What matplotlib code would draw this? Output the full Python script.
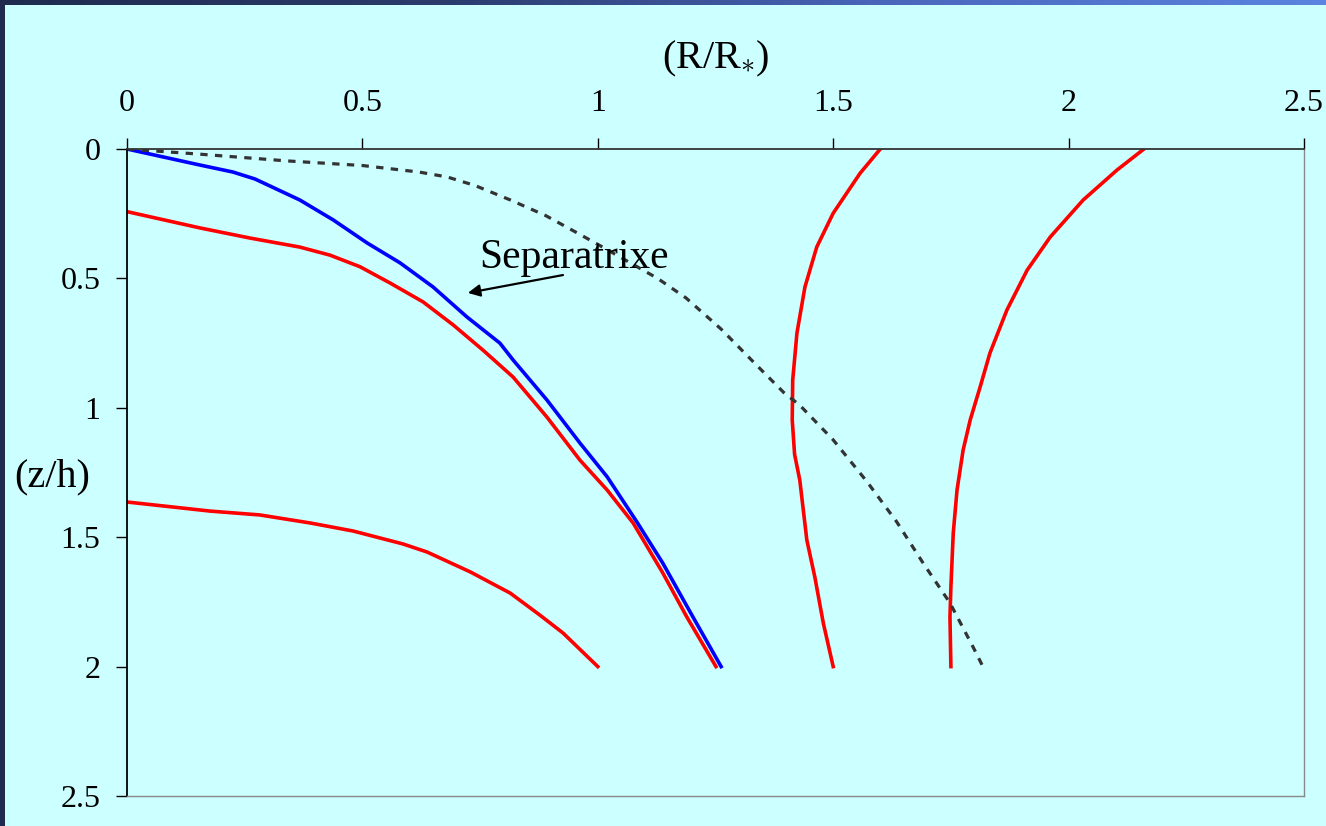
import numpy as np
import matplotlib
matplotlib.use("Agg")
import matplotlib.pyplot as plt
from matplotlib.colors import LinearSegmentedColormap

plt.rcParams["font.family"] = ["Liberation Serif", "DejaVu Serif"]
plt.rcParams["mathtext.fontset"] = "custom"
plt.rcParams["mathtext.rm"] = "Liberation Serif"
plt.rcParams["mathtext.it"] = "Liberation Serif:italic"

# Separatrix (blue)
sep_r = [0, 0.155, 0.225, 0.272, 0.367, 0.438, 0.510, 0.580, 0.650, 0.722,
         0.792, 0.820, 0.892, 0.962, 1.020, 1.083, 1.138, 1.202, 1.262]
sep_z = [0, 0.062, 0.089, 0.116, 0.197, 0.274, 0.363, 0.440, 0.533, 0.649,
         0.750, 0.815, 0.970, 1.136, 1.267, 1.441, 1.600, 1.808, 2.0]

# Red profiles
r1_r = [0, 0.155, 0.261, 0.367, 0.431, 0.495, 0.559, 0.629, 0.693, 0.756,
        0.820, 0.892, 0.962, 1.020, 1.075, 1.138, 1.189, 1.251]
r1_z = [0.242, 0.305, 0.344, 0.379, 0.410, 0.455, 0.518, 0.591, 0.680, 0.777,
        0.881, 1.036, 1.202, 1.318, 1.445, 1.638, 1.808, 2.0]

r2_r = [0, 0.176, 0.282, 0.389, 0.480, 0.586, 0.637, 0.729, 0.814, 0.877, 0.926, 1.0]
r2_z = [1.364, 1.399, 1.414, 1.445, 1.476, 1.526, 1.557, 1.634, 1.716, 1.801, 1.870, 2.0]

r3_r = [1.60, 1.557, 1.500, 1.465, 1.440, 1.423, 1.414, 1.413, 1.418, 1.429,
        1.444, 1.461, 1.479, 1.500]
r3_z = [0, 0.094, 0.248, 0.379, 0.533, 0.711, 0.893, 1.047, 1.18, 1.279,
        1.511, 1.654, 1.832, 2.0]

r4_r = [2.16, 2.103, 2.031, 1.961, 1.912, 1.869, 1.833, 1.812, 1.791, 1.776,
        1.763, 1.755, 1.750, 1.748, 1.75]
r4_z = [0, 0.081, 0.197, 0.340, 0.468, 0.622, 0.788, 0.920, 1.047, 1.163,
        1.318, 1.484, 1.692, 1.808, 2.0]

# Dashed profile
d_r = [0, 0.155, 0.340, 0.501, 0.620, 0.680, 0.739, 0.813, 0.889, 0.963,
       1.016, 1.127, 1.187, 1.262, 1.336, 1.395, 1.429, 1.500, 1.572, 1.635,
       1.691, 1.748, 1.797, 1.818]
d_z = [0, 0.020, 0.046, 0.064, 0.089, 0.108, 0.141, 0.196, 0.257, 0.331,
       0.385, 0.500, 0.575, 0.696, 0.833, 0.941, 0.990, 1.124, 1.286, 1.441,
       1.600, 1.754, 1.924, 2.0]

ticks = [0, 0.5, 1, 1.5, 2, 2.5]
tick_labels = ["0", "0.5", "1", "1.5", "2", "2.5"]

bg = "#CCFFFF"
fig = plt.figure(figsize=(13.26, 8.26), dpi=100, facecolor=bg)

# slide frame: gradient strip on top, dark strip on the left
grad_ax = fig.add_axes([0, 1 - 5 / 826, 1, 5 / 826])
cmap = LinearSegmentedColormap.from_list(
    "frame", ["#1F2A4E", "#2A3B6C", "#4A66BA", "#5A84E0"])
grad_ax.imshow(np.linspace(0, 1, 256)[None, :], aspect="auto", cmap=cmap)
grad_ax.axis("off")
fig.patches.append(plt.Rectangle((0, 0), 5 / 1326, 1, transform=fig.transFigure,
                                 facecolor="#1F2A4E", edgecolor="none", zorder=-1))

ax = fig.add_axes([127 / 1326, 1 - 796 / 826, (1304 - 127) / 1326, (796 - 149) / 826])
ax.set_facecolor(bg)

lw = 2.6
ax.plot(r2_r, r2_z, color="red", lw=lw)
ax.plot(r1_r, r1_z, color="red", lw=lw)
ax.plot(r3_r, r3_z, color="red", lw=lw)
ax.plot(r4_r, r4_z, color="red", lw=lw)
ax.plot(sep_r, sep_z, color="blue", lw=lw)
ax.plot(d_r, d_z, color="#333333", lw=2.3, dashes=(2.3, 2.3))

ax.set_xlim(0, 2.5)
ax.set_ylim(2.5, 0)
ax.xaxis.tick_top()
ax.set_xticks(ticks)
ax.set_xticklabels(tick_labels)
ax.set_yticks(ticks)
ax.set_yticklabels(tick_labels)
ax.tick_params(axis="x", direction="out", length=8, width=1, pad=14, labelsize=23)
ax.tick_params(axis="y", direction="out", length=8, width=1, pad=11, labelsize=23)

ax.spines["left"].set_color("black")
ax.spines["left"].set_linewidth(1.3)
ax.spines["top"].set_color("#333333")
ax.spines["top"].set_linewidth(1.3)
ax.spines["right"].set_color("#888888")
ax.spines["right"].set_linewidth(1.0)
ax.spines["bottom"].set_color("#888888")
ax.spines["bottom"].set_linewidth(1.0)

fig.text(716 / 1326, 1 - 59 / 826, r"(R/R$_{\ast}$)", fontsize=29,
         ha="center", va="center")
fig.text(52 / 1326, 1 - 477 / 826, "(z/h)", fontsize=29, ha="center", va="center")

ax.annotate("", xy=(0.724, 0.556), xytext=(0.926, 0.487),
            arrowprops=dict(arrowstyle="-|>", color="black", lw=1.6,
                            mutation_scale=18, shrinkA=0, shrinkB=0))
ax.text(0.95, 0.42, "Separatrixe", fontsize=30, ha="center", va="center")

fig.savefig("out.png", dpi=100, facecolor=bg)
